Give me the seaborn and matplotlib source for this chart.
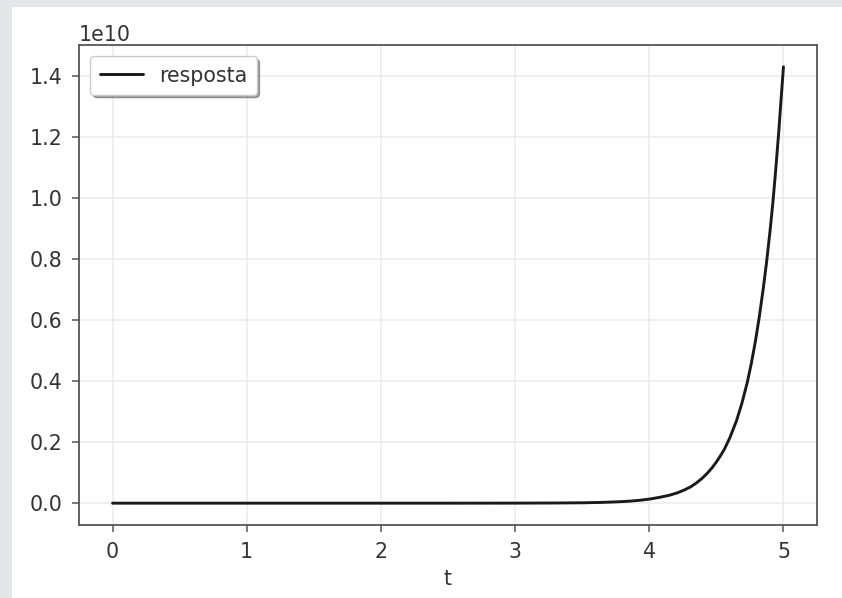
import matplotlib
matplotlib.use("Agg")
import matplotlib.pyplot as plt
import seaborn as sns
import pandas as pd
from matplotlib.patches import Rectangle

# values (y in units of 1e10)
t_values = [0.0, 0.5, 1.0, 1.5, 2.0, 2.5, 3.0, 3.3, 3.5, 3.64, 3.75, 3.85, 3.93, 4.01, 4.08,
            4.15, 4.21, 4.26, 4.31, 4.35, 4.39, 4.43, 4.47, 4.5, 4.53, 4.56, 4.60, 4.65, 4.69,
            4.73, 4.76, 4.79, 4.82, 4.85, 4.875, 4.90, 4.92, 4.94, 4.965, 4.98, 5.0]
y_values = [0.0, 0.0, 0.0, 0.0, 0.0, 0.0, 0.0002, 0.0006, 0.0013, 0.0025, 0.0042, 0.0065, 0.0095,
            0.0140, 0.0195, 0.026, 0.034, 0.043, 0.054, 0.066, 0.080, 0.097, 0.117, 0.135, 0.155,
            0.177, 0.214, 0.270, 0.327, 0.395, 0.457, 0.528, 0.611, 0.705, 0.793, 0.892, 0.980,
            1.080, 1.217, 1.310, 1.430]
series_name = "resposta"
x_label = "t"

df = pd.DataFrame({"t": t_values, "y": [v * 1e10 for v in y_values]})

sns.set_style("ticks")
plt.rcParams["font.family"] = ["DejaVu Sans"]
text_color = "#333333"
spine_color = "#555555"
fs = 14.8

fig = plt.figure(figsize=(8.42, 5.98), dpi=100, facecolor="#e4e6e9")
fig.patches.append(Rectangle((12 / 842, 0), 1, 1 - 7 / 598, transform=fig.transFigure,
                             facecolor="white", edgecolor="none", zorder=-10))
ax = fig.add_axes([79 / 842, 1 - 525 / 598, (817 - 79) / 842, (525 - 45) / 598])

sns.lineplot(data=df, x="t", y="y", ax=ax, color="#1a1a1a", linewidth=2.1,
             label=series_name, estimator=None, sort=False)

ax.set_xlim(-0.25, 5.25)
ax.set_ylim(-0.0715e10, 1.5015e10)
ax.set_yticks([i * 0.2e10 for i in range(8)])
ax.set_xticks(range(6))

ax.grid(True, color="#ececec", linewidth=1.2)
ax.set_axisbelow(True)
for s in ax.spines.values():
    s.set_visible(True)
    s.set_color(spine_color)
    s.set_linewidth(1.3)

ax.tick_params(axis="both", direction="out", length=5, width=1.1, color=spine_color,
               labelsize=fs, labelcolor=text_color, pad=7)
ax.yaxis.get_offset_text().set_fontsize(fs)
ax.yaxis.get_offset_text().set_color(text_color)
ax.set_xlabel(x_label, fontsize=fs, color=text_color, labelpad=5)
ax.set_ylabel("")

leg = ax.legend(loc="upper left", fontsize=fs, frameon=True, fancybox=True, shadow=True,
                handlelength=2.1, borderpad=0.45, borderaxespad=0.55)
leg.get_frame().set_edgecolor("#cccccc")
leg.get_frame().set_linewidth(1.0)
for txt in leg.get_texts():
    txt.set_color(text_color)

fig.savefig("out.png", dpi=100, facecolor=fig.get_facecolor())
